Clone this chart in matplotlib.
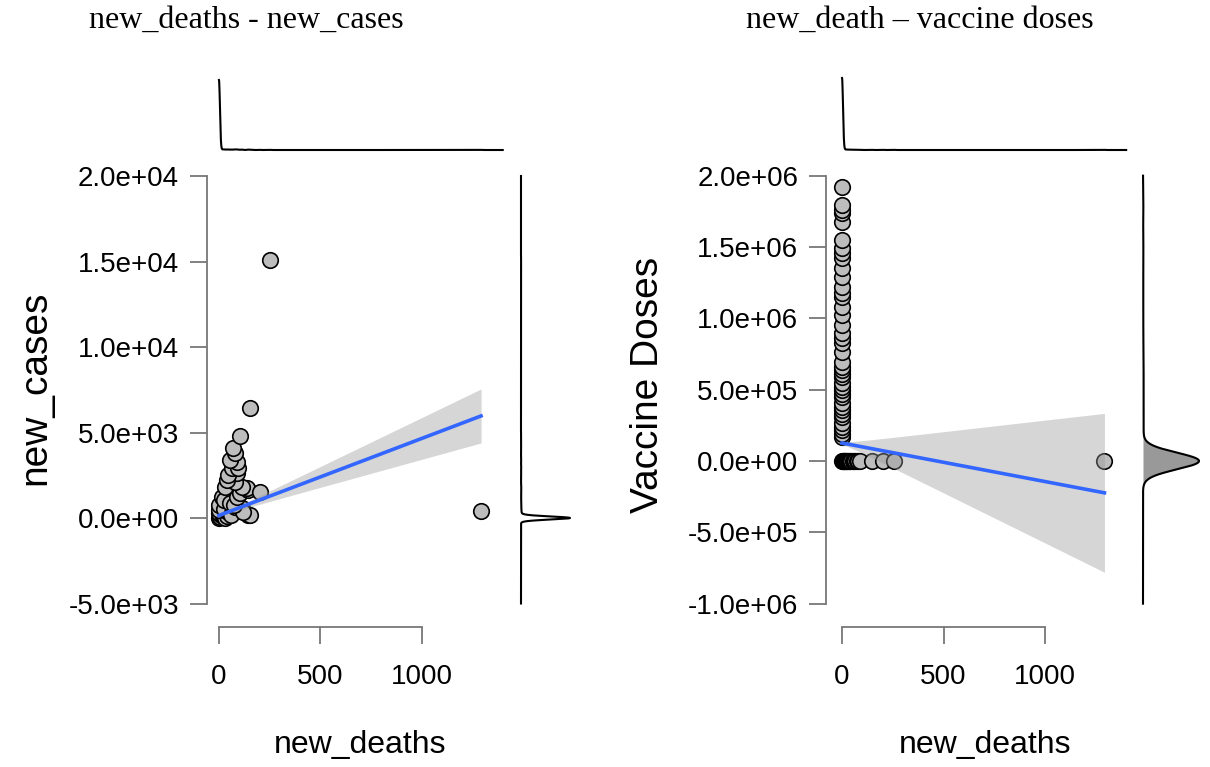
import numpy as np
import matplotlib.pyplot as plt

# daily rows: new_deaths vs new_cases (days = how many days share that pair)
cases_deaths = [0, 5, 10, 0, 20, 15, 30, 40, 0, 0, 44, 25, 60, 79, 114, 143, 153, 118,
                15, 25, 54, 74, 89, 104, 143, 138, 202, 30, 114, 79, 39, 89, 44, 64, 94,
                89, 54, 79, 69, 104, 153, 252, 1293]
cases_values = [0, 60, 150, 280, 90, 290, 20, 120, 470, 760, 350, 520, 200, 640, 585, 175, 180, 350,
                1230, 1050, 900, 750, 1230, 1460, 1640, 1750, 1520, 1810, 1810, 2100, 2220, 2630, 2510, 2920, 2920,
                3280, 3390, 3800, 4090, 4790, 6430, 15090, 410]
cases_days = [480, 2, 2, 1, 1, 1, 1, 1, 1, 1, 1, 1, 1, 1, 1, 1, 1, 1,
              1, 1, 1, 1, 1, 1, 1, 1, 1, 1, 1, 1, 1, 1, 1, 1, 1,
              1, 1, 1, 1, 1, 1, 1, 1]

# daily rows: new_deaths vs vaccine doses
dose_deaths = [0, 3, 6, 9, 12, 15, 18, 22, 26, 30, 35, 40, 46, 52, 58, 65, 72, 80, 90,
               148, 202, 256, 1293] + [0] * 41
dose_values = [0] * 23 + [168000, 190000, 217000, 240000, 267000, 309000, 330000, 358000, 380000,
                          407000, 449000, 470000, 498000, 520000, 547000, 589000, 610000, 638000,
                          660000, 694000, 764000, 828000, 860000, 898000, 954000, 1024000, 1080000,
                          1150000, 1180000, 1220000, 1290000, 1354000, 1424000, 1460000, 1494000,
                          1550000, 1676000, 1739000, 1760000, 1795000, 1921000]
dose_days = [440] + [1] * 22 + [1] * 41

# linear fits (intercept, slope) and 95% band half-width (at centre, at x max, centre x)
cases_fit = (150, 4.5)
cases_band = (80, 1580, 8)
dose_fit = (126000, -270)
dose_band = (15000, 557000, 5)
fit_xmax = 1293

death_ticks = [0, 500, 1000]
cases_ticks = [-5000, 0, 5000, 10000, 15000, 20000]
cases_labels = ["-5.0e+03", "0.0e+00", "5.0e+03", "1.0e+04", "1.5e+04", "2.0e+04"]
dose_ticks = [-1000000, -500000, 0, 500000, 1000000, 1500000, 2000000]
dose_labels = ["-1.0e+06", "-5.0e+05", "0.0e+00", "5.0e+05", "1.0e+06", "1.5e+06", "2.0e+06"]

plt.rcParams['font.family'] = 'Liberation Sans'

W, H = 1210, 767
fig = plt.figure(figsize=(W / 100, H / 100), dpi=100)


def px_axes(x0, y0, x1, y1):
    return fig.add_axes([x0 / W, 1 - y1 / H, (x1 - x0) / W, (y1 - y0) / H])


def kde(values, weights, grid, adjust=1.0):
    v = np.asarray(values, float)
    w = np.asarray(weights, float)
    n = w.sum()
    mean = np.sum(w * v) / n
    sd = np.sqrt(np.sum(w * (v - mean) ** 2) / (n - 1))
    bw = adjust * 0.9 * sd * n ** -0.2
    z = (grid[:, None] - v[None, :]) / bw
    d = (w * np.exp(-0.5 * z ** 2)).sum(axis=1)
    return d / d.max()


def main_panel(ax, x, y, fit, band, yticks, ylabels, xlim, ylim):
    ax.scatter(x, y, s=125, facecolor='#bdbdbd', edgecolor='black', linewidth=1.2, zorder=2)
    xs = np.linspace(0, fit_xmax, 200)
    yfit = fit[0] + fit[1] * xs
    hw = np.sqrt(band[0] ** 2 + ((band[1] ** 2 - band[0] ** 2) / (fit_xmax - band[2]) ** 2) * (xs - band[2]) ** 2)
    ax.fill_between(xs, yfit - hw, yfit + hw, color='#999999', alpha=0.4, linewidth=0, zorder=3)
    ax.plot(xs, yfit, color='#3366ff', linewidth=2.6, zorder=4)
    ax.set_xlim(xlim)
    ax.set_ylim(ylim)
    for s in ['top', 'right']:
        ax.spines[s].set_visible(False)
    for s in ['left', 'bottom']:
        ax.spines[s].set_color('#777777')
        ax.spines[s].set_linewidth(1.3)
    ax.spines['left'].set_bounds(yticks[0], yticks[-1])
    ax.spines['bottom'].set_bounds(death_ticks[0], death_ticks[-1])
    ax.set_xticks(death_ticks)
    ax.set_yticks(yticks)
    ax.set_yticklabels(ylabels)
    ax.tick_params(direction='out', length=12, width=1.3, color='#777777', labelsize=20)
    ax.tick_params(axis='y', pad=8)
    ax.tick_params(axis='x', pad=15)
    ax.patch.set_visible(False)


def top_margin(ax, values, weights, xlim):
    grid = np.linspace(0, 1400, 2800)
    ax.plot(grid, kde(values, weights, grid, 0.3), color='black', linewidth=1.5, clip_on=False)
    ax.set_xlim(xlim)
    ax.set_ylim(0, 1)
    ax.axis('off')


def side_margin(ax, values, weights, ylim, lo, hi, adjust, fill=None):
    grid = np.linspace(lo, hi, 3000)
    d = kde(values, weights, grid, adjust)
    if fill:
        ax.fill_betweenx(grid, 0, d, color=fill, linewidth=0)
    ax.plot(d, grid, color='black', linewidth=1.5, clip_on=False)
    ax.set_xlim(0, 1)
    ax.set_ylim(ylim)
    ax.axis('off')


# left: new_deaths vs new_cases
lim_x1 = (-59, 1352)
lim_y1 = (-6374, 20936)
ax1 = px_axes(207, 160, 493, 627)
main_panel(ax1, cases_deaths, cases_values, cases_fit, cases_band, cases_ticks, cases_labels, lim_x1, lim_y1)
top_margin(px_axes(207, 80, 493, 150), cases_deaths, cases_days, lim_x1)
side_margin(px_axes(521, 160, 570, 627), cases_values, cases_days, lim_y1, -5000, 20000, 0.4)

# right: new_deaths vs vaccine doses
lim_x2 = (-79, 1345)
lim_y2 = (-1163700, 2110000)
ax2 = px_axes(826, 160, 1115, 627)
main_panel(ax2, dose_deaths, dose_values, dose_fit, dose_band, dose_ticks, dose_labels, lim_x2, lim_y2)
top_margin(px_axes(826, 78, 1115, 150), dose_deaths, dose_days, lim_x2)
side_margin(px_axes(1143, 160, 1199, 627), dose_values, dose_days, lim_y2, -1000000, 2000000, 0.8,
            fill='#999999')

fig.text(246 / W, 1 - 20 / H, "new_deaths - new_cases", family='Liberation Serif', fontsize=23,
         ha='center', va='center')
fig.text(920 / W, 1 - 20 / H, "new_death \u2013 vaccine doses", family='Liberation Serif', fontsize=23,
         ha='center', va='center')
fig.text(35 / W, 1 - 388 / H, "new_cases", fontsize=28, rotation=90, ha='center', va='center')
fig.text(648 / W, 1 - 385 / H, "Vaccine Doses", fontsize=28, rotation=90, ha='center', va='center')
fig.text(360 / W, 1 - 745 / H, "new_deaths", fontsize=23, ha='center', va='center')
fig.text(985 / W, 1 - 745 / H, "new_deaths", fontsize=23, ha='center', va='center')

fig.savefig('out.png', dpi=100, facecolor='white')
